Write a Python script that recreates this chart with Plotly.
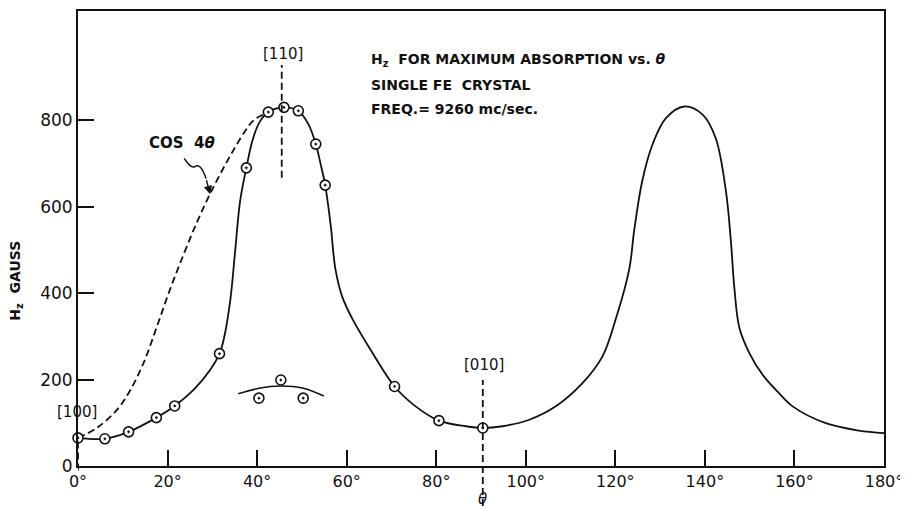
import plotly.graph_objects as go

# ---- data ----
# measured points (open circles)
theta_pts = [0, 6, 11.3, 17.5, 21.6, 31.6, 37.6, 42.5, 46, 49.2, 53.1, 55.2, 70.7, 80.6, 90.4]
h_pts = [65, 63, 79, 112, 139, 260, 690, 819, 830, 822, 745, 650, 184, 105, 88]

# smooth solid curve through the points and its mirrored branch
theta_curve = [0, 6, 11.3, 17.5, 21.6, 25.8, 29.5, 31.6, 32.5, 34, 35.1, 36.2, 37.6, 38.9, 40.4,
               42.5, 46, 49.2, 51.5, 53.1, 54.2, 55.2, 56.4, 57.5, 59.0, 61.3, 65.4, 70.7,
               75.4, 80.6, 86.6, 90.4, 94.8, 100.8, 106.7, 112.6, 117.1, 120.1, 123.1, 124.2,
               126.0, 128.3, 131.3, 135.4, 139.5, 142.4, 144.7, 145.8, 146.6, 147.7, 149.9,
               152.9, 156.6, 159.6, 167.0, 174.4, 180]
h_curve = [65, 63, 79, 112, 139, 176, 222, 260, 291, 383, 498, 613, 690, 751, 793,
           819, 830, 822, 790, 745, 698, 650, 560, 455, 392, 340, 268, 184,
           138, 105, 92, 88, 92, 107, 138, 191, 253, 340, 455, 544,
           659, 744, 805, 832, 813, 759, 636, 521, 410, 320, 262,
           211, 168, 138, 99, 82, 76]

# dashed "cos 4θ" curve
theta_cos = [0, 4.2, 8.7, 11.7, 14.7, 17.6, 20.6, 23.6, 26.6, 29.5, 33.3, 37.0, 39.2, 41.9]
h_cos = [65, 88, 130, 176, 240, 322, 410, 490, 565, 630, 705, 770, 800, 816]

# small secondary group
theta_small = [40.4, 45.3, 50.3]
h_small = [157, 199, 157]
theta_arc = [35.8, 40.4, 45.3, 50.3, 54.9]
h_arc = [167, 180, 185, 180, 162]

x_ticks = [0, 20, 40, 60, 80, 100, 120, 140, 160, 180]
x_tick_text = [f"{t}°" for t in x_ticks]
y_ticks = [0, 200, 400, 600, 800]
y_tick_text = [str(t) for t in y_ticks]

Y_MAX = 1053

FONT = "DejaVu Sans"
BLACK = "#111111"

fig = go.Figure()

fig.add_trace(go.Scatter(
    x=theta_cos, y=h_cos, mode="lines",
    line=dict(color=BLACK, width=1.8, dash="7px,4px", shape="spline", smoothing=1.0),
    hoverinfo="skip", showlegend=False))

fig.add_trace(go.Scatter(
    x=theta_curve, y=h_curve, mode="lines",
    line=dict(color=BLACK, width=1.8, shape="spline", smoothing=1.0),
    hoverinfo="skip", showlegend=False))

fig.add_trace(go.Scatter(
    x=theta_arc, y=h_arc, mode="lines",
    line=dict(color=BLACK, width=1.6, shape="spline", smoothing=1.0),
    hoverinfo="skip", showlegend=False))

marker_style = dict(symbol="circle-dot", size=10, color="white",
                    line=dict(color=BLACK, width=1.6))
fig.add_trace(go.Scatter(x=theta_pts, y=h_pts, mode="markers", marker=marker_style,
                         cliponaxis=False, showlegend=False))
fig.add_trace(go.Scatter(x=theta_small, y=h_small, mode="markers", marker=marker_style,
                         showlegend=False))

# vertical dashed reference lines
dash_line = dict(color=BLACK, width=1.8, dash="7px,4px")
fig.add_shape(type="line", xref="x", yref="y", x0=45.5, x1=45.5, y0=667, y1=928, line=dash_line)
fig.add_shape(type="line", xref="x", yref="paper", x0=90.4, x1=90.4,
              y0=-0.088, y1=199 / Y_MAX, line=dash_line)
fig.add_shape(type="line", xref="x", yref="paper", x0=0, x1=0,
              y0=-0.01, y1=65 / Y_MAX, line=dash_line)

# curly pointer for cos 4θ
fig.add_shape(type="path", xref="x", yref="y",
              path="M 23.7 712 C 24.5 700, 25.2 690, 26.0 692 C 27.0 700, 27.8 690, 28.6 665",
              line=dict(color=BLACK, width=1.4))
fig.add_annotation(x=29.5, y=629, ax=28.6, ay=665, axref="x", ayref="y",
                   text="", showarrow=True, arrowhead=2, arrowsize=1.2,
                   arrowwidth=1.4, arrowcolor=BLACK)

ann_font = dict(family=FONT, size=14, color=BLACK, weight="bold")
lab_font = dict(family=FONT, size=15, color=BLACK)
fig.add_annotation(x=23.2, y=748, text="COS  4<i>θ</i>", showarrow=False,
                   font=dict(family=FONT, size=15, color=BLACK, weight="bold"))
fig.add_annotation(x=45.8, y=954, text="[110]", showarrow=False, font=lab_font)
fig.add_annotation(x=0, y=125, xshift=-1, text="[100]", showarrow=False, font=lab_font)
fig.add_annotation(x=90.7, y=234, text="[010]", showarrow=False, font=lab_font)
fig.add_annotation(x=90.4, y=-0.073, yref="paper", yanchor="middle", xanchor="center",
                   text="<i>θ</i>", showarrow=False,
                   font=dict(family=FONT, size=15, color=BLACK))

fig.add_annotation(x=65.0, y=940, xanchor="left",
                   text="H<sub>z</sub>  FOR MAXIMUM ABSORPTION vs. <i>θ</i>",
                   showarrow=False, font=ann_font)
fig.add_annotation(x=65.0, y=882, xanchor="left", text="SINGLE FE  CRYSTAL",
                   showarrow=False, font=ann_font)
fig.add_annotation(x=65.0, y=827, xanchor="left", text="FREQ.= 9260 mc/sec.",
                   showarrow=False, font=ann_font)

fig.add_annotation(xref="paper", yref="paper", x=-0.078, y=(466.5 - 280) / 457.5,
                   xanchor="center", yanchor="middle",
                   text="H<sub>z</sub>  GAUSS", textangle=-90, showarrow=False,
                   font=dict(family=FONT, size=14, color=BLACK, weight="bold"))

fig.update_xaxes(range=[0, 180], tickvals=x_ticks, ticktext=x_tick_text,
                 ticks="inside", ticklen=16, tickwidth=1.6, tickcolor=BLACK,
                 showline=True, linecolor=BLACK, linewidth=2, mirror=True,
                 showgrid=False, zeroline=False,
                 tickfont=dict(family=FONT, size=16, color=BLACK))
fig.update_yaxes(range=[0, Y_MAX], tickvals=y_ticks, ticktext=y_tick_text,
                 ticks="inside", ticklen=16, tickwidth=1.6, tickcolor=BLACK,
                 showline=True, linecolor=BLACK, linewidth=2, mirror=True,
                 showgrid=False, zeroline=False, ticklabelstandoff=0,
                 tickfont=dict(family=FONT, size=17, color=BLACK))

# page body adds an 8px offset, so the figure is 8px smaller than the window
fig.update_layout(width=900, height=501, margin=dict(l=70, r=24, t=1, b=42.5),
                  paper_bgcolor="white", plot_bgcolor="white", showlegend=False)

fig.write_html("out.html")
